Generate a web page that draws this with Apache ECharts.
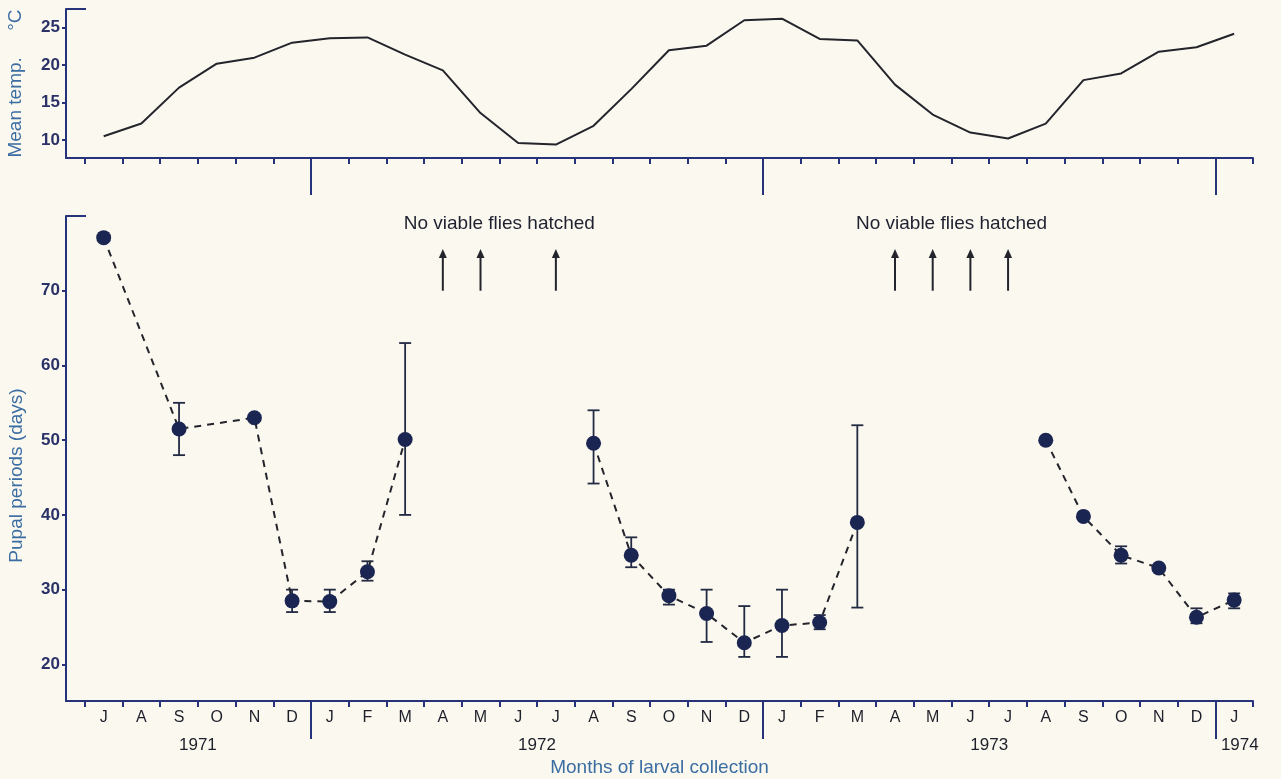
<!DOCTYPE html>
<html>
<head>
<meta charset="utf-8">
<script src="https://cdn.jsdelivr.net/npm/echarts@6/dist/echarts.min.js"></script>
<style>
html,body{margin:0;padding:0;background:#fbf9ef;}
#chart{width:1281px;height:779px;}
</style>
</head>
<body>
<div id="chart"></div>
<script>
// ---- data ----
const months = ['J','A','S','O','N','D','J','F','M','A','M','J','J','A','S','O','N','D','J','F','M','A','M','J','J','A','S','O','N','D','J'];
const years = ['1971','1972','1973','1974'];
const meanTemp = [10.5,12.2,17.0,20.2,21.0,23.0,23.6,23.7,21.4,19.3,13.6,9.6,9.4,11.9,16.8,22.0,22.6,26.0,26.2,23.5,23.3,17.4,13.4,11.0,10.2,12.2,18.0,18.9,21.8,22.4,24.2];
const pupalMean = [77.1,null,51.5,null,53.0,28.5,28.4,32.4,50.1,null,null,null,null,49.6,34.6,29.2,26.8,22.9,25.2,25.6,39.0,null,null,null,null,50.0,39.8,34.6,32.9,26.3,28.6];
const pupalLow  = [null,null,48.0,null,null,27.0,27.0,31.2,40.0,null,null,null,null,44.2,33.0,28.0,23.0,21.0,21.0,24.7,27.6,null,null,null,null,null,null,33.5,null,25.5,27.5];
const pupalHigh = [null,null,55.0,null,null,30.0,30.0,33.8,63.0,null,null,null,null,54.0,37.0,30.0,30.0,27.8,30.0,26.6,52.0,null,null,null,null,null,null,35.8,null,27.5,29.5];
const noViable = [9,10,12,21,22,23,24];
const tempTicks = [10,15,20,25];
const pupalTicks = [20,30,40,50,60,70];
const noteText = 'No viable flies hatched';

// ---- derived ----
const n = months.length;
const halfTicks = [];
for (let i = 0; i <= n; i++) halfTicks.push(i - 0.5);
const yearStarts = [0];
for (let i = 1; i < n; i++) if (months[i] === 'J' && months[i-1] === 'D') yearStarts.push(i);
const sepTicks = yearStarts.slice(1).map(i => i - 0.5);
const yearCenters = yearStarts.map((s, k) => {
  const e = (k + 1 < yearStarts.length ? yearStarts[k+1] : n) - 1;
  return s === e ? s + 0.15 : (s + e) / 2;
});

const segments = [];
let cur = [];
for (let i = 0; i < n; i++) {
  if (noViable.includes(i)) { if (cur.length) segments.push(cur); cur = []; continue; }
  if (pupalMean[i] != null) cur.push([i, pupalMean[i]]);
}
if (cur.length) segments.push(cur);

const errData = [];
for (let i = 0; i < n; i++) if (pupalLow[i] != null) errData.push([i, pupalLow[i], pupalHigh[i]]);

const groups = [];
noViable.forEach(i => {
  const g = groups[groups.length - 1];
  if (g && i - g[g.length - 1] <= 2) g.push(i); else groups.push([i]);
});
const noteData = groups.map(g => [(g[0] + g[g.length - 1]) / 2]);

const NAVY = '#26337a';
const LABEL = '#2a3168';
const NAME = '#3b6da3';
const INK = '#1d1f2a';
const DOT = '#1b2552';
const FONT = '"Liberation Sans", Arial, sans-serif';

const xMin = -1, xMax = 30.5;

const chart = echarts.init(document.getElementById('chart'), null, {renderer: 'canvas'});

function baseX(grid) {
  return {
    type: 'value', gridIndex: grid, min: xMin, max: xMax, position: 'bottom',
    splitLine: {show: false}
  };
}
function baseY(grid, min, max) {
  return {
    type: 'value', gridIndex: grid, min: min, max: max, position: 'left',
    splitLine: {show: false}
  };
}

const option = {
  backgroundColor: '#fbf9ef',
  animation: false,
  textStyle: {fontFamily: FONT},
  grid: [
    {left: 66, right: 28, top: 9, height: 149, containLabel: false, outerBoundsMode: 'none'},
    {left: 66, right: 28, top: 216, height: 485, containLabel: false, outerBoundsMode: 'none'}
  ],
  xAxis: [
    Object.assign(baseX(0), {
      axisLine: {show: true, onZero: false, lineStyle: {color: NAVY, width: 2}},
      axisTick: {show: true, customValues: halfTicks, length: 6, lineStyle: {color: NAVY, width: 2}},
      axisLabel: {show: false}
    }),
    Object.assign(baseX(0), {
      axisLine: {show: false, onZero: false},
      axisTick: {show: true, customValues: sepTicks, length: 37, lineStyle: {color: NAVY, width: 2}},
      axisLabel: {show: false}
    }),
    Object.assign(baseX(1), {
      axisLine: {show: true, onZero: false, lineStyle: {color: NAVY, width: 2}},
      axisTick: {show: true, customValues: halfTicks, length: 6, lineStyle: {color: NAVY, width: 2}},
      axisLabel: {show: true, customValues: months.map((m, i) => i),
        formatter: v => months[Math.round(v)] || '', color: INK, fontSize: 16, margin: 9, fontFamily: FONT},
      name: 'Months of larval collection', nameLocation: 'middle', nameGap: 57,
      nameTextStyle: {color: NAME, fontSize: 19, fontFamily: FONT}
    }),
    Object.assign(baseX(1), {
      axisLine: {show: false, onZero: false},
      axisTick: {show: true, customValues: sepTicks, length: 38, lineStyle: {color: NAVY, width: 2}},
      axisLabel: {show: true, customValues: yearCenters,
        formatter: v => { const k = yearCenters.findIndex(c => Math.abs(c - v) < 1e-6); return k >= 0 ? years[k] : ''; },
        color: INK, fontSize: 17, margin: 36, fontFamily: FONT}
    })
  ],
  yAxis: [
    Object.assign(baseY(0, 7.6, 27.5), {
      axisLine: {show: true, onZero: false, lineStyle: {color: NAVY, width: 2}},
      axisTick: {show: true, customValues: tempTicks, length: 4, lineStyle: {color: NAVY, width: 2}},
      axisLabel: {show: true, customValues: tempTicks, color: LABEL, fontSize: 17, fontWeight: 'bold', margin: 6, fontFamily: FONT},
      name: 'Mean temp.     °C', nameLocation: 'middle', nameGap: 41, nameRotate: 90,
      nameTextStyle: {color: NAME, fontSize: 19, fontFamily: FONT}
    }),
    Object.assign(baseY(0, 7.6, 27.5), {
      axisLine: {show: false, onZero: false},
      axisTick: {show: true, inside: true, customValues: [27.5], length: 20, lineStyle: {color: NAVY, width: 2}},
      axisLabel: {show: false}
    }),
    Object.assign(baseY(1, 15.1, 80), {
      axisLine: {show: true, onZero: false, lineStyle: {color: NAVY, width: 2}},
      axisTick: {show: true, customValues: pupalTicks, length: 4, lineStyle: {color: NAVY, width: 2}},
      axisLabel: {show: true, customValues: pupalTicks, color: LABEL, fontSize: 17, fontWeight: 'bold', margin: 6, fontFamily: FONT},
      name: 'Pupal periods (days)', nameLocation: 'middle', nameGap: 40, nameRotate: 90,
      nameTextStyle: {color: NAME, fontSize: 19, fontFamily: FONT, padding: [0, 34, 0, 0]}
    }),
    Object.assign(baseY(1, 15.1, 80), {
      axisLine: {show: false, onZero: false},
      axisTick: {show: true, inside: true, customValues: [80], length: 20, lineStyle: {color: NAVY, width: 2}},
      axisLabel: {show: false}
    })
  ],
  series: [
    {
      type: 'line', xAxisIndex: 0, yAxisIndex: 0,
      data: meanTemp.map((v, i) => [i, v]),
      showSymbol: false, symbol: 'none',
      lineStyle: {color: '#23242c', width: 2}
    },
    {
      type: 'custom', xAxisIndex: 2, yAxisIndex: 2, data: errData, z: 2,
      renderItem: (params, api) => {
        const x = api.value(0);
        const a = api.coord([x, api.value(1)]);
        const b = api.coord([x, api.value(2)]);
        const w = 6;
        const st = {stroke: '#232a44', lineWidth: 1.8};
        return {type: 'group', children: [
          {type: 'line', shape: {x1: a[0], y1: a[1], x2: b[0], y2: b[1]}, style: st},
          {type: 'line', shape: {x1: a[0]-w, y1: a[1], x2: a[0]+w, y2: a[1]}, style: st},
          {type: 'line', shape: {x1: b[0]-w, y1: b[1], x2: b[0]+w, y2: b[1]}, style: st}
        ]};
      }
    },
    ...segments.map(seg => ({
      type: 'line', xAxisIndex: 2, yAxisIndex: 2, data: seg, z: 3,
      symbol: 'circle', symbolSize: 15,
      itemStyle: {color: DOT},
      lineStyle: {color: '#23242c', width: 2, type: [7, 6]}
    })),
    {
      type: 'custom', xAxisIndex: 2, yAxisIndex: 2, data: noViable.map(i => [i]),
      renderItem: (params, api) => {
        const x = api.value(0);
        const base = api.coord([x, 70]);
        const tip = api.coord([x, 75.6]);
        return {type: 'group', children: [
          {type: 'line', shape: {x1: base[0], y1: base[1], x2: tip[0], y2: tip[1] + 5}, style: {stroke: '#23242c', lineWidth: 2}},
          {type: 'polygon', shape: {points: [[tip[0], tip[1]], [tip[0]-4, tip[1]+9], [tip[0]+4, tip[1]+9]]}, style: {fill: '#23242c'}}
        ]};
      }
    },
    {
      type: 'custom', xAxisIndex: 2, yAxisIndex: 2, data: noteData,
      renderItem: (params, api) => {
        const p = api.coord([api.value(0), 79.0]);
        return {type: 'text', x: p[0], y: p[1], style: {text: noteText, fill: '#1f2130', font: '19px ' + FONT, textAlign: 'center', textVerticalAlign: 'middle'}};
      }
    }
  ]
};
chart.setOption(option);
</script>
</body>
</html>
